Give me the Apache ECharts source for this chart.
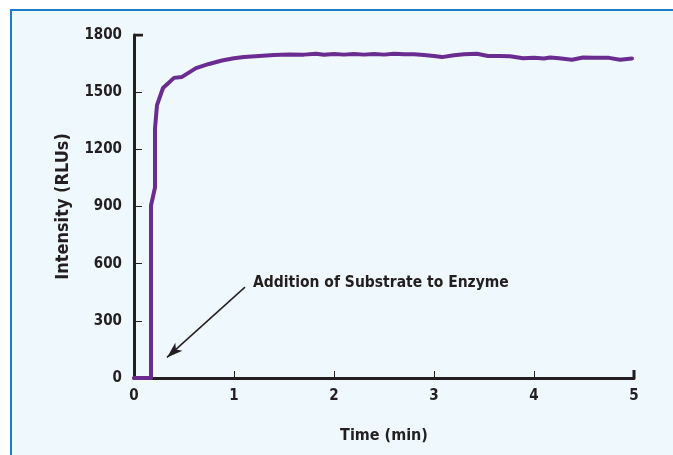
<!DOCTYPE html>
<html><head><meta charset="utf-8">
<script src="https://cdn.jsdelivr.net/npm/echarts@6/dist/echarts.min.js"></script>
<style>html,body{margin:0;padding:0;background:#fff}#c{width:673px;height:455px}</style>
</head><body><div id="c"></div>
<script>
const timeMin = [0, 0.17, 0.17, 0.21, 0.21, 0.23, 0.23, 0.29, 0.4, 0.48, 0.62, 0.75, 0.88, 1.0, 1.1, 1.25, 1.4, 1.55, 1.7, 1.82, 1.9, 2.0, 2.1, 2.2, 2.3, 2.4, 2.5, 2.6, 2.7, 2.8, 2.9, 3.0, 3.08, 3.2, 3.3, 3.43, 3.54, 3.65, 3.76, 3.89, 4.0, 4.1, 4.16, 4.25, 4.38, 4.49, 4.6, 4.75, 4.86, 4.98];
const intensity = [0, 0, 905, 1000, 1310, 1320, 1432, 1522, 1575, 1580, 1626, 1648, 1666, 1678, 1684, 1690, 1695, 1698, 1697, 1702, 1696, 1700, 1697, 1700, 1697, 1700, 1697, 1701, 1699, 1699, 1695, 1690, 1684, 1694, 1699, 1702, 1690, 1690, 1689, 1678, 1680, 1677, 1682, 1678, 1670, 1682, 1680, 1680, 1670, 1677];
const xTicks = [0, 1, 2, 3, 4, 5];
const yTicks = [0, 300, 600, 900, 1200, 1500, 1800];
const annotationText = 'Addition of Substrate to Enzyme';

const F = '"Liberation Sans Narrow","DejaVu Sans Condensed","Roboto Condensed",sans-serif';
const ink = '#231f20';
const chart = echarts.init(document.getElementById('c'));
chart.setOption({
  backgroundColor: '#ffffff',
  animation: false,
  graphic: [{
    type: 'rect', z: -10, silent: true,
    shape: { x: 11, y: 10, width: 700, height: 500 },
    style: { fill: '#eff8fc', stroke: '#1b7ccc', lineWidth: 2 }
  }],
  grid: { left: 134, right: 39, top: 35, bottom: 77 },
  xAxis: {
    type: 'value', min: 0, max: 5, interval: 1,
    name: 'Time (min)', nameLocation: 'middle', nameGap: 50,
    nameTextStyle: { fontFamily: F, fontWeight: 'bold', fontSize: 16, color: ink },
    axisLine: { lineStyle: { color: ink, width: 3 } },
    axisTick: { inside: true, length: 7, lineStyle: { color: ink, width: 1 } },
    axisLabel: { margin: 11, fontFamily: F, fontWeight: 'bold', fontSize: 15, color: ink,
      formatter: v => xTicks.includes(v) ? String(v) : '' },
    splitLine: { show: false }
  },
  yAxis: {
    type: 'value', min: 0, max: 1800, interval: 300,
    name: 'Intensity (RLUs)', nameLocation: 'middle', nameGap: 62,
    nameTextStyle: { fontFamily: F, fontWeight: 'bold', fontSize: 18, color: ink },
    axisLine: { lineStyle: { color: ink, width: 3 } },
    axisTick: { inside: true, length: 8, lineStyle: { color: ink, width: 1 } },
    axisLabel: { margin: 12, fontFamily: F, fontWeight: 'bold', fontSize: 15, color: ink,
      formatter: v => yTicks.includes(v) ? String(v) : '' },
    splitLine: { show: false }
  },
  series: [
    {
      type: 'line', data: timeMin.map((t, i) => [t, intensity[i]]),
      symbol: 'none', lineStyle: { color: '#6a2c91', width: 4, cap: 'round', join: 'round' },
      z: 3,
      markLine: {
        silent: true, symbol: ['none', 'arrow'], symbolSize: [8, 16],
        lineStyle: { color: ink, width: 1.5, type: 'solid' },
        label: { show: false },
        data: [[{ coord: [1.11, 477] }, { coord: [0.33, 108] }]]
      },
      markPoint: {
        silent: true, symbol: 'circle', symbolSize: 0,
        label: { show: true, position: 'right', distance: 0, formatter: annotationText,
          fontFamily: F, fontWeight: 'bold', fontSize: 15.5, color: ink },
        data: [{ coord: [1.19, 498] }]
      }
    },
    { type: 'line', data: [[0, 1800], [0.09, 1800]], symbol: 'none', lineStyle: { color: ink, width: 3 }, z: 4 },
    { type: 'line', data: [[5, 0], [5, 42]], symbol: 'none', lineStyle: { color: ink, width: 3 }, z: 4 }
  ]
});
</script></body></html>
